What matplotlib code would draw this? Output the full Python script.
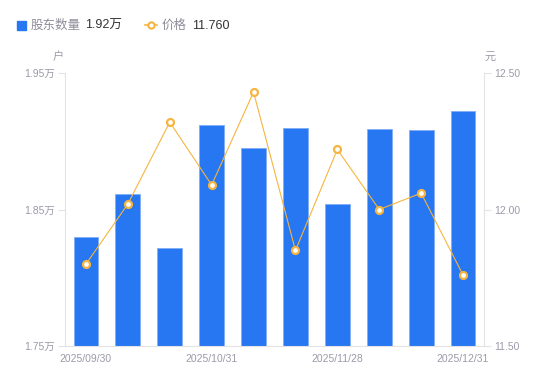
import matplotlib
matplotlib.use("Agg")
import matplotlib.pyplot as plt
from matplotlib.lines import Line2D
from matplotlib.patches import Rectangle
import numpy as np

plt.rcParams["font.family"] = ["Liberation Sans", "Noto Sans CJK SC", "DejaVu Sans"]

# 数据
dates = ["2025/09/30", "2025/10/10", "2025/10/20", "2025/10/31", "2025/11/10",
         "2025/11/20", "2025/11/28", "2025/12/10", "2025/12/19", "2025/12/31"]
holders = [1.830, 1.861, 1.822, 1.912, 1.895, 1.910, 1.854, 1.909, 1.908, 1.922]  # 万户
price = [11.80, 12.02, 12.32, 12.09, 12.43, 11.85, 12.22, 12.00, 12.06, 11.76]
shown_ticks = [0, 3, 6, 9]

BLUE = "#2776F2"
ORANGE = "#F6B540"
GREY_TXT = "#9B9BA9"
GRID = "#E3E3E6"

fig = plt.figure(figsize=(5.5, 3.81), dpi=100)
ax = fig.add_axes([65 / 550, 35 / 381, 419 / 550, 273 / 381])
ax2 = ax.twinx()

x = np.arange(len(dates))
ax.bar(x, holders, width=0.59, color=BLUE, edgecolor="#7FAEF7", linewidth=0.6)
ax.set_xlim(-0.5, len(dates) - 0.5)
ax.set_ylim(1.75, 1.95)
ax.set_yticks([1.75, 1.85, 1.95])
ax.set_yticklabels([f"{v:.2f}万" for v in [1.75, 1.85, 1.95]])
ax.set_xticks(shown_ticks)
ax.set_xticklabels([dates[i] for i in shown_ticks])

ax2.plot(x, price, color=ORANGE, linewidth=0.8, marker="o", markersize=5,
         markerfacecolor="white", markeredgecolor=ORANGE, markeredgewidth=1.6)
ax2.set_ylim(11.5, 12.5)
ax2.set_yticks([11.5, 12.0, 12.5])
ax2.set_yticklabels([f"{v:.2f}" for v in [11.5, 12.0, 12.5]])

for a in (ax, ax2):
    for s in a.spines.values():
        s.set_visible(False)
    a.tick_params(axis="both", colors=GREY_TXT, labelsize=7.5, labelcolor=GREY_TXT)
ax.spines["left"].set_visible(True)
ax.spines["left"].set_color(GRID)
ax.spines["bottom"].set_visible(True)
ax.spines["bottom"].set_color(GRID)
ax2.spines["right"].set_visible(True)
ax2.spines["right"].set_color(GRID)
ax.tick_params(axis="y", length=5, width=0.8, color=GRID, pad=2)
ax2.tick_params(axis="y", length=5, width=0.8, color=GRID, pad=2)
ax.tick_params(axis="x", length=0, pad=6)

# 单位
fig.text(58 / 550, 1 - 57 / 381, "户", fontsize=8, color=GREY_TXT, ha="center", va="center")
fig.text(490 / 550, 1 - 57 / 381, "元", fontsize=8, color=GREY_TXT, ha="center", va="center")

# 图例
ly = 1 - 25 / 381
fig.patches.append(Rectangle((17 / 550, 1 - 29.5 / 381), 9 / 550, 9 / 381,
                             transform=fig.transFigure, color=BLUE, figure=fig))
fig.text(31 / 550, ly - 1 / 381, "股东数量", fontsize=9, color="#8E8E9A", va="center")
fig.text(85 / 550, ly - 1 / 381, f"{holders[-1]:.2f}万", fontsize=9, color="#333333", va="center")
fig.lines.append(Line2D([145 / 550, 157 / 550], [ly, ly], transform=fig.transFigure,
                        color=ORANGE, linewidth=1.2, figure=fig))
fig.lines.append(Line2D([151 / 550], [ly], transform=fig.transFigure, color=ORANGE,
                        marker="o", markersize=4.5, markerfacecolor="white",
                        markeredgewidth=1.5, figure=fig))
fig.text(162 / 550, ly - 1 / 381, "价格", fontsize=9, color="#8E8E9A", va="center")
fig.text(192 / 550, ly - 1 / 381, f"{price[-1]:.3f}", fontsize=9, color="#333333", va="center")

fig.savefig("out.png", dpi=100)
